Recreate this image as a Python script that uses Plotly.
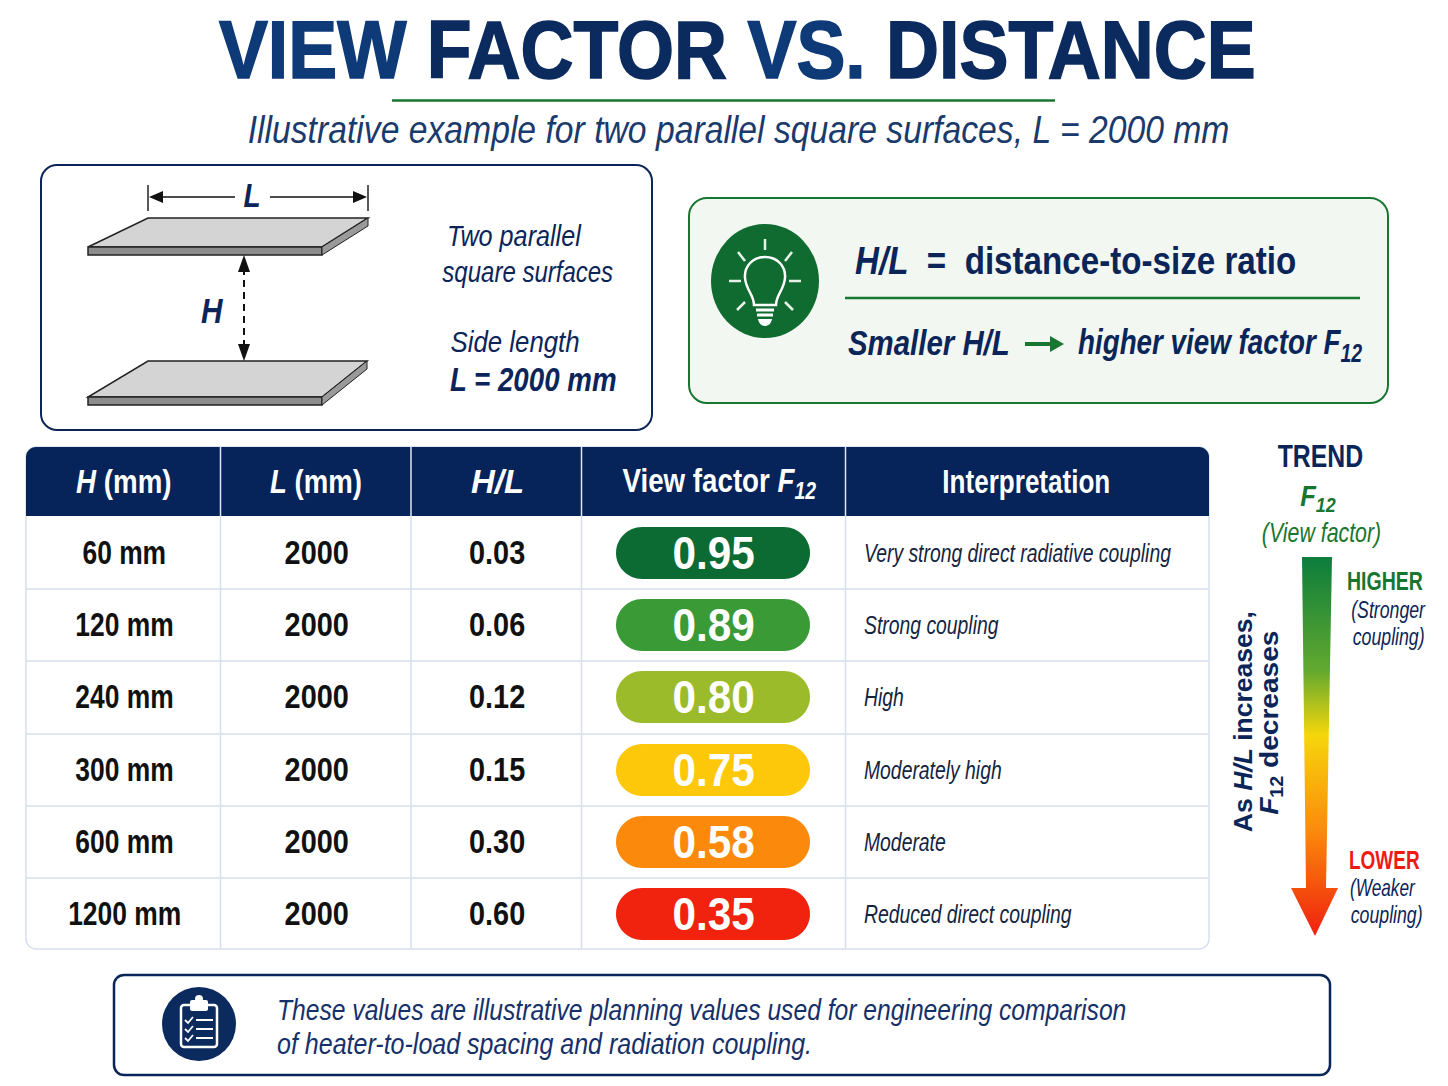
import json
import plotly.graph_objects as go

# ---------- data ----------
H_MM = ["60 mm", "120 mm", "240 mm", "300 mm", "600 mm", "1200 mm"]
L_MM = ["2000", "2000", "2000", "2000", "2000", "2000"]
H_OVER_L = ["0.03", "0.06", "0.12", "0.15", "0.30", "0.60"]
F12 = ["0.95", "0.89", "0.80", "0.75", "0.58", "0.35"]
INTERPRETATION = ["Very strong direct radiative coupling", "Strong coupling", "High",
                  "Moderately high", "Moderate", "Reduced direct coupling"]
PILL_COLORS = ["#0b6b33", "#3a9a36", "#9bbb2a", "#fdc80a", "#fb8a0c", "#f1230f"]
HEADERS = ["<i>H</i> (mm)", "<i>L</i> (mm)", "<i>H/L</i>", "View factor <i>F</i><sub><i>12</i></sub>", "Interpretation"]
TREND_STOPS = [0, 0.3, 0.47, 0.72, 1]
TREND_COLORS = ["#0b7d3c", "#63a92f", "#f6d60c", "#fb8b0b", "#f0200f"]

NAVY = "#0b2559"
GREEN = "#17762f"
SANS = "Liberation Sans, Arial, sans-serif"

shapes, notes, squeeze = [], [], []


def rr(x0, y0, x1, y1, r, tl=True, tr=True, br=True, bl=True):
    k = r * 0.45
    p = f"M{x0 + (r if tl else 0)},{y0} L{x1 - (r if tr else 0)},{y0} "
    if tr:
        p += f"C{x1 - k},{y0} {x1},{y0 + k} {x1},{y0 + r} "
    p += f"L{x1},{y1 - (r if br else 0)} "
    if br:
        p += f"C{x1},{y1 - k} {x1 - k},{y1} {x1 - r},{y1} "
    p += f"L{x0 + (r if bl else 0)},{y1} "
    if bl:
        p += f"C{x0 + k},{y1} {x0},{y1 - k} {x0},{y1 - r} "
    p += f"L{x0},{y0 + (r if tl else 0)} "
    if tl:
        p += f"C{x0},{y0 + k} {x0 + k},{y0} {x0 + r},{y0} "
    return p + "Z"


def path(d, fill="rgba(0,0,0,0)", line=None, w=0, dash=None):
    shapes.append(dict(type="path", path=d, fillcolor=fill, layer="above",
                       line=dict(color=line or "rgba(0,0,0,0)", width=w, dash=dash or "solid")))


def poly(pts, fill, line=None, w=0):
    path("M" + " L".join(f"{a},{b}" for a, b in pts) + " Z", fill, line, w)


def seg(x0, y0, x1, y1, color, w, dash=None):
    shapes.append(dict(type="line", x0=x0, y0=y0, x1=x1, y1=y1, layer="above",
                       line=dict(color=color, width=w, dash=dash or "solid")))


def ell(cx, cy, rx, ry, fill):
    shapes.append(dict(type="circle", x0=cx - rx, x1=cx + rx, y0=cy - ry, y1=cy + ry,
                       fillcolor=fill, line=dict(width=0), layer="above"))


def text(x, y, s, size, color=NAVY, anchor="center", sx=1.0, angle=0):
    notes.append(dict(x=x, y=y, text=s, xref="x", yref="y", showarrow=False, xanchor=anchor,
                      yanchor="middle", textangle=angle, align=anchor,
                      font=dict(size=size, color=color, family=SANS)))
    squeeze.append([sx, anchor])


# ---------- title ----------
text(737, 50, '<b><span style="color:#0e3a78">VIEW</span> FACTOR <span style="color:#0e3a78">VS.</span> DISTANCE</b>',
     81, "#0b2a5e", sx=0.906)
seg(392, 100.5, 1055, 100.5, GREEN, 2.5)
text(738, 130, "<i>Illustrative example for two parallel square surfaces, L = 2000 mm</i>", 38, "#1b3a6c", sx=0.887)

# ---------- surfaces panel ----------
path(rr(41, 165, 652, 430, 16), "white", NAVY, 2)
for top, dy in ((218, 29), (361, 36)):
    xr = 368 if top == 218 else 367
    poly([(148, top), (xr, top), (322, top + dy), (88, top + dy)], "#d4d4d4", "#222222", 1.5)
    poly([(88, top + dy), (322, top + dy), (322, top + dy + 8), (88, top + dy + 8)], "#8c8c8c", "#222222", 1.5)
    poly([(322, top + dy), (xr, top), (xr, top + 8), (322, top + dy + 8)], "#9a9a9a", "#222222", 1)
seg(148, 185, 148, 211, "#222222", 1.5)
seg(368, 185, 368, 211, "#222222", 1.5)
seg(160, 197, 235, 197, "#111111", 1.5)
seg(270, 197, 356, 197, "#111111", 1.5)
poly([(149, 197), (163, 191), (163, 203)], "#111111")
poly([(367, 197), (353, 191), (353, 203)], "#111111")
text(252, 195, "<b><i>L</i></b>", 33, sx=0.85)
seg(244, 268, 244, 350, "#111111", 2, "7px,5px")
poly([(244, 255), (238, 272), (250, 272)], "#111111")
poly([(244, 361), (238, 344), (250, 344)], "#111111")
text(212, 310, "<b><i>H</i></b>", 35, sx=0.85)
text(514, 235, "<i>Two parallel</i>", 30, sx=0.84)
text(527, 271, "<i>square surfaces</i>", 30, sx=0.80)
text(515, 341, "<i>Side length</i>", 30, sx=0.86)
text(533, 379, "<b><i>L = 2000 mm</i></b>", 33, sx=0.84)

# ---------- H/L panel ----------
path(rr(689, 198, 1388, 403, 18), "#f2f7f1", GREEN, 2)
ell(765, 281, 54, 57, "#0f6b30")
path("M754,305 C754,295 746,290 745,278 C744,266 753,257 765,257 C777,257 786,266 785,278 "
     "C784,290 776,295 776,305 Z", "rgba(0,0,0,0)", "white", 2.5)
seg(756, 310, 774, 310, "white", 3)
seg(757, 315, 773, 315, "white", 3)
path("M758,319 L772,319 C771,324 768,326 765,326 C762,326 759,324 758,319 Z", "white")
for a, b, c, d in ((765, 239, 765, 250), (738, 252, 745, 261), (792, 252, 785, 261), (729, 281, 741, 281),
                   (789, 281, 801, 281), (737, 310, 745, 302), (793, 310, 785, 302)):
    seg(a, b, c, d, "#e8f2e8", 2.5)
text(853, 261, "<b><i>H/L</i>  =  distance-to-size ratio</b>", 38, anchor="left", sx=0.873)
seg(845, 298, 1360, 298, GREEN, 2.5)
text(846, 342, "<b><i>Smaller H/L</i></b>", 36, anchor="left", sx=0.817)
seg(1025, 344, 1052, 344, GREEN, 4)
poly([(1064, 344), (1050, 336), (1050, 352)], GREEN)
text(1076, 344, "<b><i>higher view factor F</i></b><sub><b><i>12</i></b></sub>", 36, anchor="left", sx=0.772)

# ---------- table ----------
col_edges = [26, 220.5, 411, 581.5, 845.5, 1209]
row_edges = [516, 589, 661, 734, 806, 878, 949]
col_centers = [124, 316, 497, 719, 1026]
row_centers = [553, 625, 697, 770, 842, 914]
head_sx = [0.84, 0.836, 1.0, 0.84, 0.79]
path(rr(26, 447, 1209, 949, 10), "white", "#d6dfeb", 1.5)
path(rr(26, 447, 1209, 516, 10, br=False, bl=False), "#06245a")
for x in col_edges[1:-1]:
    seg(x, 447, x, 516, "#dfe6f0", 1.5)
    seg(x, 516, x, 949, "#d6dfeb", 1.5)
for y in row_edges[1:-1]:
    seg(26, y, 1209, y, "#d6dfeb", 1.5)
for i, h in enumerate(HEADERS):
    text(col_centers[i], 483 if i == 3 else 481, f"<b>{h}</b>", 33, "white", sx=head_sx[i])
for i, y in enumerate(row_centers):
    text(col_centers[0], y - 0.5, f"<b>{H_MM[i]}</b>", 33, "#111111", sx=0.80)
    text(col_centers[1], y - 0.5, f"<b>{L_MM[i]}</b>", 33, "#111111", sx=0.875)
    text(col_centers[2], y - 0.5, f"<b>{H_OVER_L[i]}</b>", 33, "#111111", sx=0.875)
    path(rr(616, y - 26, 810, y + 26, 26), PILL_COLORS[i])
    text(713, y - 1, f"<b>{F12[i]}</b>", 47, "white", sx=0.9)
    text(862, y, f"<i>{INTERPRETATION[i]}</i>", 26, "#14243f", anchor="left", sx=0.745)

# ---------- trend ----------
text(1320, 456, "<b>TREND</b>", 31, sx=0.80)
text(1318, 497, "<b><i>F</i></b><sub><b><i>12</i></b></sub>", 30, GREEN, sx=0.85)
text(1321, 533, "<i>(View factor)</i>", 27, GREEN, sx=0.79)
text(1345, 581, "<b>HIGHER</b>", 26, GREEN, anchor="left", sx=0.75)
text(1388, 610, "<i>(Stronger</i>", 23, sx=0.77)
text(1388, 637, "<i>coupling)</i>", 23, sx=0.77)
text(1347, 860, "<b>LOWER</b>", 26, "#f01a12", anchor="left", sx=0.73)
text(1383, 888, "<i>(Weaker</i>", 23, sx=0.75)
text(1386, 915, "<i>coupling)</i>", 23, sx=0.77)
text(1243, 722, "<b>As <i>H/L</i> increases,</b>", 26, angle=-90, sx=1.02)
text(1270, 723, "<b><i>F</i><sub>12</sub> decreases</b>", 26, angle=-90, sx=1.08)

arrow_x = [1302, 1332, 1326, 1338, 1315, 1291, 1306, 1302]
arrow_y = [557, 557, 888, 888, 936, 888, 888, 557]
# the gradient runs from the bottom of the page upwards
trend_scale = [[1 - p, c] for p, c in zip(TREND_STOPS[::-1], TREND_COLORS[::-1])]
trend = go.Scatter(x=arrow_x, y=arrow_y, mode="lines", fill="toself", line=dict(width=0),
                   fillgradient=dict(type="vertical", colorscale=trend_scale),
                   hoverinfo="skip", showlegend=False)

# ---------- note ----------
path(rr(114, 975, 1330, 1075, 10), "white", NAVY, 2.5)
ell(199, 1024, 37, 37, "#0b2a5e")
path(rr(181, 1005, 217, 1047, 3), "rgba(0,0,0,0)", "white", 2.5)
path(rr(190, 1000, 208, 1011, 2), "white")
ell(199, 999, 4, 4, "white")
for y in (1020, 1029, 1038):
    path(f"M185,{y} L188,{y + 3} L193,{y - 3}", "rgba(0,0,0,0)", "white", 1.8)
    seg(196, y, 213, y, "white", 2)
text(275, 1010, "<i>These values are illustrative planning values used for engineering comparison</i>", 29, "#16306a", anchor="left", sx=0.85)
text(275, 1044, "<i>of heater-to-load spacing and radiation coupling.</i>", 29, "#16306a", anchor="left", sx=0.863)

fig = go.Figure(trend)
fig.update_layout(
    width=1448, height=1086, margin=dict(l=0, r=0, t=0, b=0),
    paper_bgcolor="white", plot_bgcolor="white", shapes=shapes, annotations=notes,
    xaxis=dict(range=[0, 1448], visible=False, fixedrange=True),
    yaxis=dict(range=[1086, 0], visible=False, fixedrange=True),
)

# The reference lettering is condensed and no condensed face is installed, so each text is narrowed in place.
post = """
document.body.style.margin='0';document.body.style.overflow='hidden';
var S=%s;
document.querySelectorAll('.annotation').forEach(function(a){
  var s=S[+a.getAttribute('data-index')], t=a.querySelector('text');
  if(!s||!t)return;
  var b=t.getBBox(), c=s[1]==='left'?b.x:b.x+b.width/2;
  t.setAttribute('transform','translate('+c+',0) scale('+s[0]+',1) translate('+(-c)+',0)');
});
var t0=document.querySelector('.annotation[data-index="0"] text');
if(t0){t0.querySelectorAll('tspan').forEach(function(x){var f=getComputedStyle(x).fill;x.style.stroke=f;x.style.strokeWidth='1.6px';});}
""" % json.dumps(squeeze)
fig.write_html("out.html", post_script=post, config=dict(displayModeBar=False))
